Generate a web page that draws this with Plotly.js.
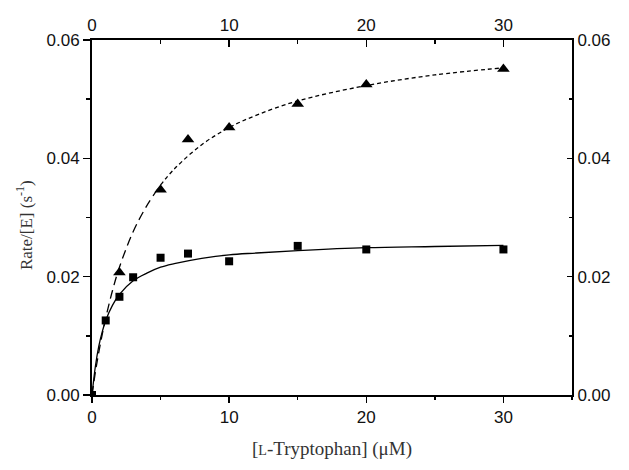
<!DOCTYPE html>
<html>
<head>
<meta charset="utf-8">
<script src="https://cdn.plot.ly/plotly-3.0.1.min.js"></script>
<style>html,body{margin:0;padding:0;background:#fff;}#chart{width:629px;height:470px;}</style>
</head>
<body>
<div id="chart"></div>
<script>
// Measured data: squares
const sqX = [0, 1, 2, 3, 5, 7, 10, 15, 20, 30];
const sqY = [0, 0.0126, 0.0166, 0.0199, 0.0232, 0.0239, 0.0226, 0.0252, 0.0246, 0.0246];
// Measured data: triangles
const triX = [2, 5, 7, 10, 15, 20, 30];
const triY = [0.0207, 0.0347, 0.0432, 0.0452, 0.0492, 0.0525, 0.0551];
// Fitted curves
const fitX = [0, 0.25, 0.5, 0.75, 1, 1.5, 2, 3, 4, 5, 6, 8, 10, 12, 15, 20, 25, 30];
const solidY = [0, 0.0049, 0.0083, 0.0107, 0.0126, 0.0152, 0.0170, 0.0193, 0.0206, 0.0216, 0.0222, 0.0231, 0.0237, 0.0240, 0.0244, 0.0249, 0.0251, 0.0253];
const dashY = [0, 0.0039, 0.0073, 0.0103, 0.0130, 0.0177, 0.0216, 0.0276, 0.0320, 0.0355, 0.0382, 0.0423, 0.0452, 0.0473, 0.0497, 0.0523, 0.0541, 0.0553];
const xTicks = [0, 10, 20, 30];
const yTicks = [0, 0.02, 0.04, 0.06];
const xTitle = '[<span style="font-size:14px">L</span>-Tryptophan] (μM)';
const yTitle = 'Rate/[E] (s<sup>-1</sup>)';

// split dashed curve: long dashes on steep part, short dashes after
const splitIdx = fitX.indexOf(5);
const traces = [
  {x: fitX, y: solidY, mode: 'lines', line: {color: '#000', width: 1.3, shape: 'spline'}, hoverinfo: 'skip'},
  {x: fitX.slice(0, splitIdx + 1), y: dashY.slice(0, splitIdx + 1), mode: 'lines', line: {color: '#000', width: 1.3, dash: '9px,5px', shape: 'spline'}},
  {x: fitX.slice(splitIdx), y: dashY.slice(splitIdx), mode: 'lines', line: {color: '#000', width: 1.3, dash: '4px,3px', shape: 'spline'}},
  {x: sqX, y: sqY, mode: 'markers', marker: {symbol: 'square', size: 8, color: '#000'}},
  {x: triX, y: triY, mode: 'markers', marker: {symbol: 'triangle-up', size: 11, color: '#000'}}
];
// dummy trace to activate top and right axes
traces.push({x: [0], y: [0], xaxis: 'x2', yaxis: 'y2', mode: 'markers', marker: {opacity: 0}, hoverinfo: 'skip'});

const tickFont = {family: 'Liberation Sans, Arial, sans-serif', size: 17, color: '#111'};
const titleColor = '#333';
const serif = 'Liberation Serif, Times New Roman, serif';

const layout = {
  width: 629, height: 470,
  margin: {l: 92, r: 57, t: 40, b: 75},
  paper_bgcolor: '#fff', plot_bgcolor: '#fff',
  showlegend: false,
  xaxis: {
    range: [0, 35], tickvals: xTicks, ticktext: xTicks.map(String),
    ticks: 'outside', ticklen: 6, tickwidth: 1.5, tickcolor: '#000',
    minor: {dtick: 5, tick0: 0, ticks: 'outside', ticklen: 3, tickwidth: 1.5, tickcolor: '#000'},
    showline: true, linecolor: '#000', linewidth: 2, showgrid: false, zeroline: false,
    tickfont: tickFont, automargin: false
  },
  yaxis: {
    range: [0, 0.06], tickvals: yTicks, tickformat: '.2f',
    ticks: 'outside', ticklen: 7, tickwidth: 1.5, tickcolor: '#000',
    minor: {dtick: 0.01, tick0: 0, ticks: 'outside', ticklen: 4, tickwidth: 1.5, tickcolor: '#000'},
    showline: true, linecolor: '#000', linewidth: 2, showgrid: false, zeroline: false,
    tickfont: tickFont, automargin: false
  },
  xaxis2: {
    overlaying: 'x', side: 'top', anchor: 'y',
    range: [0, 35], tickvals: xTicks, ticktext: xTicks.map(String),
    ticks: 'inside', ticklen: 7, tickwidth: 1.5, tickcolor: '#000',
    minor: {dtick: 5, tick0: 0, ticks: 'inside', ticklen: 4, tickwidth: 1.5, tickcolor: '#000'},
    showline: true, linecolor: '#000', linewidth: 2, showgrid: false, zeroline: false,
    tickfont: tickFont, automargin: false
  },
  yaxis2: {
    overlaying: 'y', side: 'right', anchor: 'x',
    range: [0, 0.06], tickvals: yTicks, tickformat: '.2f',
    ticks: 'inside', ticklen: 5, tickwidth: 1.5, tickcolor: '#000',
    minor: {dtick: 0.01, tick0: 0, ticks: 'inside', ticklen: 3, tickwidth: 1.5, tickcolor: '#000'},
    showline: true, linecolor: '#000', linewidth: 2, showgrid: false, zeroline: false,
    tickfont: tickFont, automargin: false
  },
  annotations: [
    {text: xTitle, xref: 'paper', yref: 'paper', x: 0.5, y: -0.152, xanchor: 'center', yanchor: 'middle',
     showarrow: false, font: {family: serif, size: 19, color: titleColor}},
    {text: yTitle, xref: 'paper', yref: 'paper', x: -0.14, y: 0.478, xanchor: 'center', yanchor: 'middle',
     textangle: -90, showarrow: false, font: {family: serif, size: 17, color: titleColor}}
  ]
};

Plotly.newPlot('chart', traces, layout, {staticPlot: true, displayModeBar: false});
</script>
</body>
</html>
